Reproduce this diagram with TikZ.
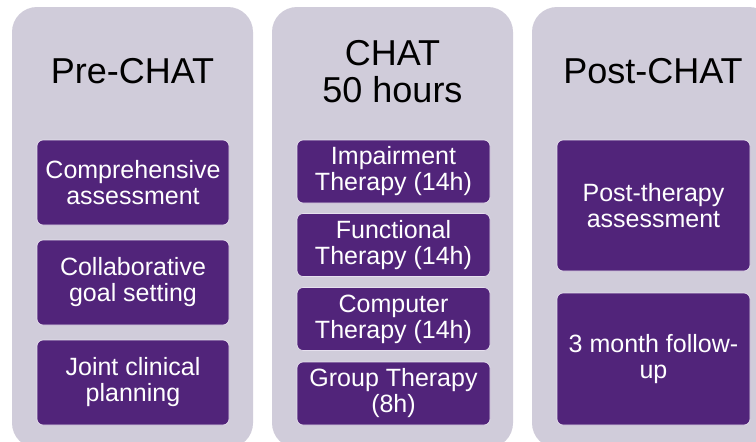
\documentclass[tikz,border=0pt]{standalone}
\usepackage{fontspec}
\setmainfont{Liberation Sans}
\definecolor{colgray}{HTML}{D0CCDA}
\definecolor{boxpurple}{HTML}{51247A}
\definecolor{boxedge}{HTML}{E6E0EE}
\begin{document}
\begin{tikzpicture}[x=1pt,y=-1pt,
  column/.style={fill=colgray, rounded corners=25pt},
  title/.style={font=\fontsize{36}{37}\selectfont, text=black, inner sep=0pt, align=center},
  pbox/.style={fill=boxpurple, draw=boxedge, line width=0.7pt, rounded corners=6pt,
    text=white, font=\fontsize{25}{26}\selectfont, align=center, inner sep=0pt},
]
\useasboundingbox (0,0) rectangle (756,442);
\fill[white] (0,0) rectangle (756,442);
% columns
\fill[column] (12,7) rectangle (253,448);
\fill[column] (272,7) rectangle (513,448);
\fill[column] (532,7) rectangle (774,448);
% titles
\node[title, anchor=base] (t1) at (132.5,83) {Pre-CHAT};
\node[title] (t2) at (392.5,71.6) {CHAT\\50 hours};
\node[title, anchor=base] (t3) at (653,83) {Post-CHAT};
% column 1 boxes
\node[pbox, minimum width=192pt, minimum height=85pt] (a1) at (133,182.5) {Comprehensive\\assessment};
\node[pbox, minimum width=192pt, minimum height=85pt] (a2) at (133,282.5) {Collaborative\\goal setting};
\node[pbox, minimum width=192pt, minimum height=85pt] (a3) at (133,382.5) {Joint clinical\\planning};
% column 2 boxes
\node[pbox, minimum width=193pt, minimum height=63pt] (b1) at (393.5,171.5) {Impairment\\Therapy (14h)};
\node[pbox, minimum width=193pt, minimum height=63pt] (b2) at (393.5,245) {Functional\\Therapy (14h)};
\node[pbox, minimum width=193pt, minimum height=63pt] (b3) at (393.5,319) {Computer\\Therapy (14h)};
\node[pbox, minimum width=193pt, minimum height=63pt] (b4) at (393.5,393.5) {Group Therapy\\(8h)};
% column 3 boxes
\node[pbox, minimum width=193pt, minimum height=131pt] (c1) at (653.5,205.5) {Post-therapy\\assessment};
\node[pbox, minimum width=193pt, minimum height=132pt] (c2) at (653.5,359) {3 month follow-\\up};
\end{tikzpicture}
\end{document}
